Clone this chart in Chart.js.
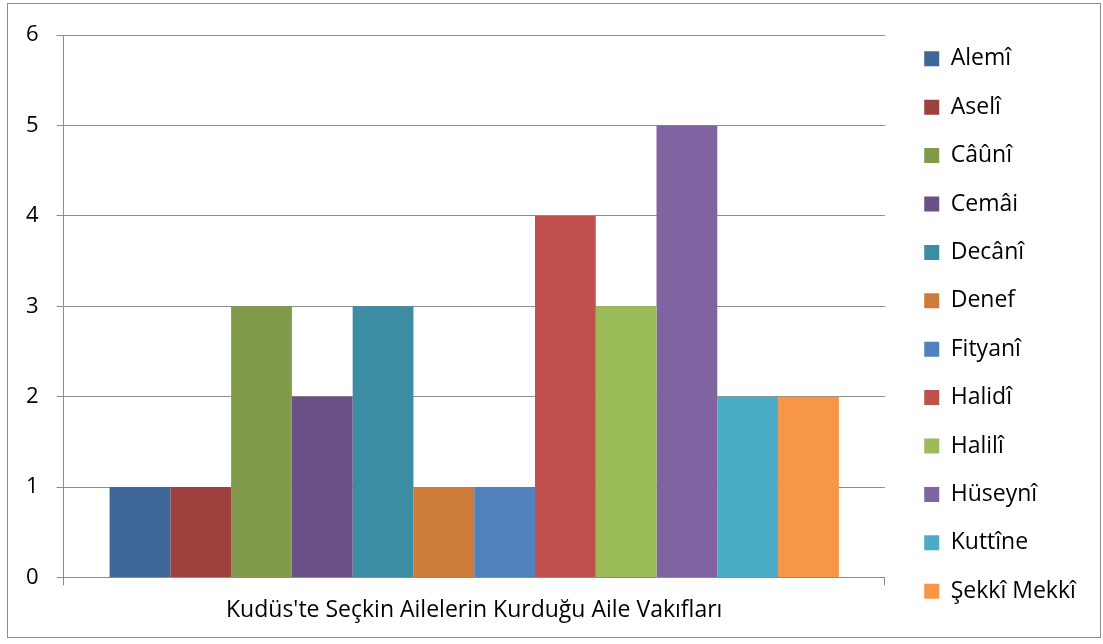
<!DOCTYPE html>
<html>
<head>
<meta charset="utf-8">
<script src="https://cdn.jsdelivr.net/npm/chart.js@4"></script>
<style>
  body { margin: 0; background: #fff; }
  #box {
    position: absolute; left: 7px; top: 3px;
    width: 1094px; height: 635px;
    border: 1px solid #8c8c8c;
    box-sizing: border-box;
  }
</style>
</head>
<body>
<div id="box"><canvas id="chart"></canvas></div>
<script>
const category = ["Kudüs'te Seçkin Ailelerin Kurduğu Aile Vakıfları"];
const families = ['Alemî', 'Aselî', 'Câûnî', 'Cemâi', 'Decânî', 'Denef',
  'Fityanî', 'Halidî', 'Halilî', 'Hüseynî', 'Kuttîne', 'Şekkî Mekkî'];
const counts = [1, 1, 3, 2, 3, 1, 1, 4, 3, 5, 2, 2];
const colors = ['#3f6899', '#9e413e', '#7f9a48', '#695185', '#3c8da3', '#cc7b38',
  '#4f81bd', '#c0504d', '#9bbb59', '#8064a2', '#4bacc6', '#f79646'];
const yTicks = [0, 1, 2, 3, 4, 5, 6];

const tickFont = { family: 'Open Sans', size: 22 };
const textFont = { family: 'Open Sans', size: 23 };
const gridColor = '#8c8c8c';

const datasets = families.map((name, i) => ({
  label: name,
  data: [counts[i]],
  backgroundColor: colors[i],
  borderWidth: 0
}));

const chart = document.querySelector('#chart').getContext('2d');

new Chart(chart, {
  type: 'bar',
  data: { labels: category, datasets: datasets },
  options: {
    responsive: true,
    maintainAspectRatio: false,
    animation: false,
    categoryPercentage: 0.888,
    barPercentage: 1,
    layout: { padding: { left: 0, top: 6, right: 23, bottom: 2 } },
    plugins: {
      tooltip: { enabled: false },
      legend: {
        position: 'right',
        title: {
          display: true,
          text: ' ',
          font: { size: 1, lineHeight: 1 },
          padding: { top: 4, bottom: 0 }
        },
        labels: {
          font: textFont,
          color: '#000',
          boxWidth: 15,
          boxHeight: 15,
          padding: 25.4
        }
      }
    },
    scales: {
      x: {
        grid: {
          offset: true,
          drawOnChartArea: false,
          drawTicks: true,
          tickLength: 8,
          color: gridColor
        },
        border: { color: gridColor, width: 1 },
        ticks: { font: textFont, color: '#000', padding: 11 }
      },
      y: {
        min: 0,
        max: 6,
        afterBuildTicks: s => { s.ticks = yTicks.map(v => ({ value: v })); },
        grid: { color: gridColor, tickLength: 7 },
        border: { color: gridColor, width: 1 },
        ticks: { font: tickFont, color: '#000', padding: 18 }
      },
      gap: {
        type: 'linear',
        axis: 'y',
        position: 'right',
        grid: { display: false },
        border: { display: false },
        ticks: { display: false },
        afterFit: s => { s.width = 14; }
      }
    }
  }
});
</script>
</body>
</html>
